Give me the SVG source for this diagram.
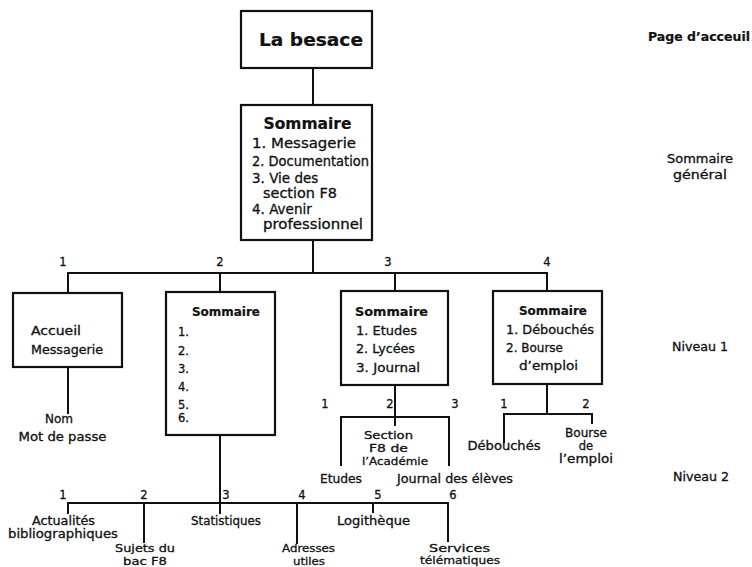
<svg xmlns="http://www.w3.org/2000/svg" width="752" height="567" viewBox="0 0 752 567">
<style>
  text { font-family: "DejaVu Sans", "Liberation Sans", sans-serif; fill: #111; stroke: #111; stroke-width: 0.3; }
  .b { font-weight: bold; stroke-width: 0.2; }
  .m { text-anchor: middle; }
  .s14 { font-size: 13.5px; }
  .s13 { font-size: 12px; }
  .s12 { font-size: 11.5px; }
  .s11 { font-size: 11px; }
  .num { font-size: 11.5px; text-anchor: middle; }
  .box { fill: #fff; stroke: #111; stroke-width: 2.2; }
  .ln { fill: none; stroke: #111; stroke-width: 2; stroke-linecap: square; }
</style>
<rect width="752" height="567" fill="#fff"/>

<g id="connectors">
  <line class="ln" x1="313" y1="68" x2="313" y2="105"/>
  <line class="ln" x1="313" y1="240" x2="313" y2="273"/>
  <line class="ln" x1="68" y1="273" x2="547" y2="273"/>
  <line class="ln" x1="68" y1="273" x2="68" y2="293"/>
  <line class="ln" x1="220" y1="273" x2="220" y2="292"/>
  <line class="ln" x1="395" y1="273" x2="395" y2="291"/>
  <line class="ln" x1="547" y1="273" x2="547" y2="291"/>
  <line class="ln" x1="68" y1="367" x2="68" y2="413"/>
  <line class="ln" x1="395" y1="385" x2="395" y2="425"/>
  <line class="ln" x1="547" y1="384" x2="547" y2="414"/>
  <line class="ln" x1="504" y1="414" x2="592" y2="414"/>
  <line class="ln" x1="504" y1="414" x2="504" y2="442"/>
  <line class="ln" x1="592" y1="414" x2="592" y2="423"/>
  <line class="ln" x1="220" y1="435" x2="220" y2="513"/>
  <line class="ln" x1="68" y1="503" x2="448" y2="503"/>
  <line class="ln" x1="68" y1="503" x2="68" y2="513"/>
  <line class="ln" x1="144" y1="503" x2="144" y2="542"/>
  <line class="ln" x1="297" y1="503" x2="297" y2="543"/>
  <line class="ln" x1="373" y1="503" x2="373" y2="512"/>
  <line class="ln" x1="448" y1="503" x2="448" y2="541"/>
  <g id="edge-numbers">
    <text class="num" x="63" y="266">1</text>
    <text class="num" x="220" y="266">2</text>
    <text class="num" x="388" y="266">3</text>
    <text class="num" x="547" y="266">4</text>
    <text class="num" x="325" y="408">1</text>
    <text class="num" x="390" y="408">2</text>
    <text class="num" x="455" y="408">3</text>
    <text class="num" x="504" y="408">1</text>
    <text class="num" x="586" y="408">2</text>
    <text class="num" x="63" y="499">1</text>
    <text class="num" x="144" y="499">2</text>
    <text class="num" x="226" y="499">3</text>
    <text class="num" x="302" y="499">4</text>
    <text class="num" x="378" y="499">5</text>
    <text class="num" x="453" y="499">6</text>
  </g>
</g>

<g id="n-besace">
  <rect class="box" x="241" y="11" width="131" height="57"/>
  <text class="b m" x="311" y="46" font-size="18" textLength="104" lengthAdjust="spacingAndGlyphs">La besace</text>
</g>

<g id="n-sommaire">
  <rect class="box" x="241" y="105" width="131" height="135"/>
  <text class="b m" x="307.5" y="129" font-size="16" textLength="88" lengthAdjust="spacingAndGlyphs">Sommaire</text>
  <text class="s14" x="252" y="148" textLength="104" lengthAdjust="spacingAndGlyphs">1. Messagerie</text>
  <text class="s14" x="252" y="166" textLength="117" lengthAdjust="spacingAndGlyphs">2. Documentation</text>
  <text class="s14" x="252" y="183" font-size="13">3. Vie des</text>
  <text class="s14" x="263" y="198" font-size="13" textLength="74" lengthAdjust="spacingAndGlyphs">section F8</text>
  <text class="s14" x="252" y="214" font-size="13">4. Avenir</text>
  <text class="s14" x="263" y="229" font-size="13" textLength="100" lengthAdjust="spacingAndGlyphs">professionnel</text>
</g>

<g id="n-messagerie">
  <rect class="box" x="13" y="293" width="109" height="74"/>
  <text class="s13" x="31" y="335" textLength="50" lengthAdjust="spacingAndGlyphs">Accueil</text>
  <text class="s13" x="31" y="354" textLength="72" lengthAdjust="spacingAndGlyphs">Messagerie</text>
</g>

<g id="n-documentation">
  <rect class="box" x="166" y="292" width="109" height="143"/>
  <text class="b m" x="226" y="316" font-size="12" textLength="68" lengthAdjust="spacingAndGlyphs">Sommaire</text>
  <text class="s12" x="178" y="336">1.</text>
  <text class="s12" x="178" y="355">2.</text>
  <text class="s12" x="178" y="373">3.</text>
  <text class="s12" x="178" y="391">4.</text>
  <text class="s12" x="178" y="409">5.</text>
  <text class="s12" x="178" y="422">6.</text>
</g>

<g id="n-vie">
  <rect class="box" x="341" y="291" width="107" height="94"/>
  <text class="b m" x="391.5" y="316" font-size="12" textLength="73" lengthAdjust="spacingAndGlyphs">Sommaire</text>
  <text class="s13" x="356" y="335" textLength="61" lengthAdjust="spacingAndGlyphs">1. Etudes</text>
  <text class="s13" x="356" y="353" textLength="59" lengthAdjust="spacingAndGlyphs">2. Lycées</text>
  <text class="s13" x="356" y="372" textLength="64" lengthAdjust="spacingAndGlyphs">3. Journal</text>
</g>

<g id="n-avenir">
  <rect class="box" x="493" y="291" width="109" height="93"/>
  <text class="b m" x="553" y="315" font-size="12" textLength="68" lengthAdjust="spacingAndGlyphs">Sommaire</text>
  <text class="s13" x="506" y="334" textLength="88" lengthAdjust="spacingAndGlyphs">1. Débouchés</text>
  <text class="s13" x="506" y="352" textLength="57" lengthAdjust="spacingAndGlyphs">2. Bourse</text>
  <text class="s13" x="519" y="370" textLength="59" lengthAdjust="spacingAndGlyphs">d’emploi</text>
</g>

<g id="n-nom">
  <text class="s13 m" x="59" y="423">Nom</text>
  <text class="s13 m" x="62.5" y="441" textLength="88" lengthAdjust="spacingAndGlyphs">Mot de passe</text>
</g>

<g id="n-section">
  <polyline class="ln" points="341,465 341,417 449,417 449,465"/>
  <text class="s11 m" x="388.5" y="439" textLength="49" lengthAdjust="spacingAndGlyphs">Section</text>
  <text class="s11 m" x="388.5" y="452" textLength="39" lengthAdjust="spacingAndGlyphs">F8 de</text>
  <text class="s11 m" x="395" y="465" textLength="66" lengthAdjust="spacingAndGlyphs">l’Académie</text>
</g>
<g id="n-etudes"><text class="s12 m" x="341" y="483" textLength="42" lengthAdjust="spacingAndGlyphs">Etudes</text></g>
<g id="n-journal"><text class="s12" x="397" y="483" textLength="116" lengthAdjust="spacingAndGlyphs">Journal des élèves</text></g>

<g id="n-debouches"><text class="s12 m" x="504" y="450" textLength="73" lengthAdjust="spacingAndGlyphs">Débouchés</text></g>
<g id="n-bourse">
  <text class="s12 m" x="586" y="437" textLength="42" lengthAdjust="spacingAndGlyphs">Bourse</text>
  <text class="s12 m" x="586" y="450">de</text>
  <text class="s12 m" x="586" y="463" textLength="54" lengthAdjust="spacingAndGlyphs">l’emploi</text>
</g>

<g id="n-actualites">
  <text class="s12 m" x="63.5" y="525" textLength="63" lengthAdjust="spacingAndGlyphs">Actualités</text>
  <text class="s12 m" x="63" y="538" textLength="110" lengthAdjust="spacingAndGlyphs">bibliographiques</text>
</g>
<g id="n-sujets">
  <text class="s11 m" x="145" y="552" textLength="60" lengthAdjust="spacingAndGlyphs">Sujets du</text>
  <text class="s11 m" x="145" y="565" textLength="44" lengthAdjust="spacingAndGlyphs">bac F8</text>
</g>
<g id="n-statistiques"><text class="s12 m" x="226" y="525" textLength="70" lengthAdjust="spacingAndGlyphs">Statistiques</text></g>
<g id="n-adresses">
  <text class="s11 m" x="308.5" y="552" textLength="53" lengthAdjust="spacingAndGlyphs">Adresses</text>
  <text class="s11 m" x="309" y="565" textLength="32" lengthAdjust="spacingAndGlyphs">utiles</text>
</g>
<g id="n-logitheque"><text class="s12 m" x="373.5" y="525" textLength="73" lengthAdjust="spacingAndGlyphs">Logithèque</text></g>
<g id="n-services">
  <text class="s11 m" x="459.5" y="552" textLength="61" lengthAdjust="spacingAndGlyphs">Services</text>
  <text class="s11 m" x="460" y="564" textLength="80" lengthAdjust="spacingAndGlyphs">télématiques</text>
</g>

<g id="levels">
  <text class="b" x="648" y="41" font-size="11.5" textLength="102" lengthAdjust="spacingAndGlyphs">Page d’acceuil</text>
  <text class="s12 m" x="700" y="163" textLength="66" lengthAdjust="spacingAndGlyphs">Sommaire</text>
  <text class="s12 m" x="700" y="179" textLength="54" lengthAdjust="spacingAndGlyphs">général</text>
  <text class="s12" x="672" y="351" textLength="56" lengthAdjust="spacingAndGlyphs">Niveau 1</text>
  <text class="s12" x="673" y="481" textLength="56" lengthAdjust="spacingAndGlyphs">Niveau 2</text>
</g>
</svg>
